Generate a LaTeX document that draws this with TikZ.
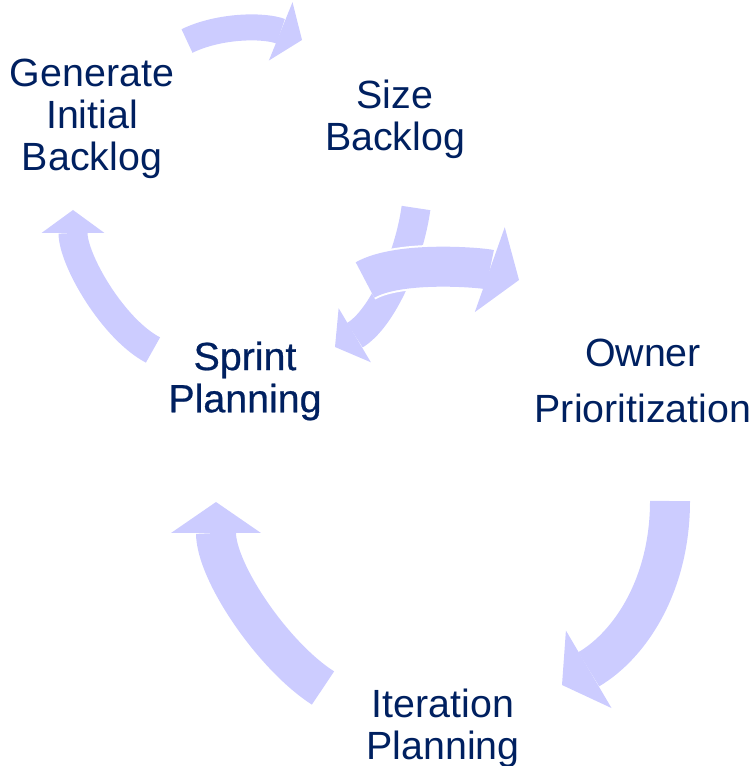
\documentclass[tikz,border=0pt]{standalone}
\usepackage{fontspec}
\setmainfont{Liberation Sans}
\newfontfamily\heavyfont[FakeBold=0.6]{Liberation Sans}
\usetikzlibrary{arrows.meta}
\definecolor{cyc_blue}{RGB}{204, 204, 255}
\definecolor{cyc_text}{RGB}{0, 32, 96}
\tikzstyle{lbl}=[align=center,text=cyc_text,inner sep=0pt,
  font=\fontsize{22.4}{24}\selectfont]
\tikzstyle{narr}=[draw=cyc_blue,line width=0.58cm,
  -{Triangle[width=1.26cm,length=0.46cm,line width=0pt]}]
\tikzstyle{warr}=[draw=cyc_blue,line width=0.8cm,
  -{Triangle[width=1.8cm,length=0.62cm,line width=0pt]}]

\begin{document}
\begin{tikzpicture}[x=0.02cm,y=-0.02cm]
        \useasboundingbox (0,0) rectangle (755,766);
        \node [style=lbl] (gen) at (92,119) {Generate\\Initial\\Backlog};
        \node [style=lbl] (size) at (395,119) {Size\\Backlog};
        \node [style=lbl,font=\heavyfont\fontsize{22.4}{24}\selectfont] (sprint) at (245,381) {Sprint\\Planning};
        \node [style=lbl] (owner) at (643,381) {Owner\\[8pt]Prioritization};
        \node [style=lbl] (iter) at (443,728) {Iteration\\Planning};
        \coordinate (gs) at (187,41);
        \coordinate (ge) at (302,40);
        \coordinate (ss) at (153,350);
        \coordinate (se) at (73,210);
        \coordinate (is) at (323,688);
        \coordinate (ie) at (216,502);
        \coordinate (os) at (670,501);
        \coordinate (oe) at (562,685);
        \coordinate (bs) at (416,208);
        \coordinate (be) at (335,347);
        \coordinate (ps) at (365,280);
        \coordinate (pe) at (519,280);
        \draw [style=narr,line width=0.52cm] (gs) .. controls +(33,-16) and +(-37,-15) .. (ge);
        \draw [style=narr] (ss) .. controls +(-40,-21) and +(0,50) .. (se);
        \draw [style=warr] (is) .. controls +(-50,-32) and +(0,70) .. (ie);
        \draw [style=warr] (os) .. controls +(0,84) and +(68,-40) .. (oe);
        \draw [style=narr] (bs) .. controls +(-7,50) and +(47,-28) .. (be);
        \draw [style=warr,draw=white,line width=0.88cm] (ps) .. controls +(35,-20) and +(-34,-12) .. (pe);
        \draw [style=warr] (ps) .. controls +(35,-20) and +(-34,-12) .. (pe);
    \end{tikzpicture}
\end{document}
